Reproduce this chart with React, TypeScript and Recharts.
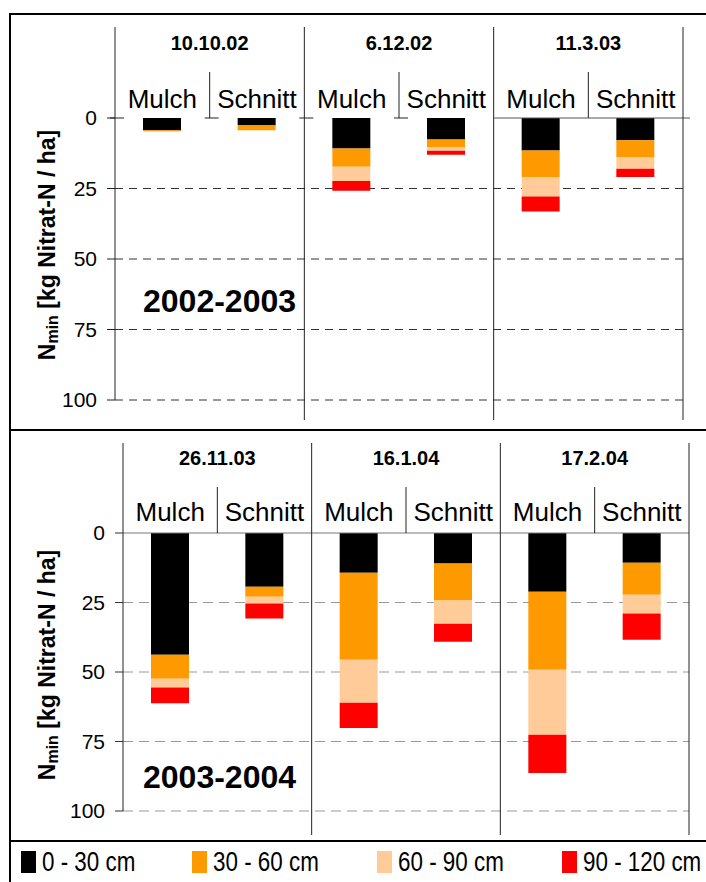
import React from 'react';
import { BarChart, Bar, XAxis, YAxis, CartesianGrid, Legend, Customized } from 'recharts';

const FONT = "'Liberation Sans', Arial, Helvetica, sans-serif";

const treatments = ['Mulch', 'Schnitt', 'Mulch', 'Schnitt', 'Mulch', 'Schnitt'];
const dates2002 = ['10.10.02', '6.12.02', '11.3.03'];
const dates2003 = ['26.11.03', '16.1.04', '17.2.04'];

const s2002_0_30 = [4.3, 2.5, 10.8, 7.6, 11.5, 7.9];
const s2002_30_60 = [0.3, 1.8, 6.5, 2.9, 9.4, 6.1];
const s2002_60_90 = [0.3, 0, 5.0, 1.1, 6.9, 4.0];
const s2002_90_120 = [0, 0, 3.5, 1.4, 5.4, 2.9];

const s2003_0_30 = [43.8, 19.3, 14.3, 11.0, 21.1, 10.7];
const s2003_30_60 = [8.6, 3.6, 31.3, 13.3, 28.1, 11.5];
const s2003_60_90 = [3.2, 2.5, 15.5, 8.3, 23.4, 6.8];
const s2003_90_120 = [5.6, 5.4, 9.0, 6.5, 13.7, 9.4];

const yTicks = [0, 25, 50, 75, 100];
const yDomain = [0, 100];
const gridValues = [25, 50, 75, 100];
const layerNames = ['0 - 30 cm', '30 - 60 cm', '60 - 90 cm', '90 - 120 cm'];
const layerColors = ['#000000', '#FF9900', '#FFCC99', '#FF0000'];
const layerKeys = ['l1', 'l2', 'l3', 'l4'];

function buildData(a: number[], b: number[], c: number[], d: number[]) {
  return treatments.map((t, i) => ({ key: 'c' + i, treatment: t, l1: a[i], l2: b[i], l3: c[i], l4: d[i] }));
}

const data2002 = buildData(s2002_0_30, s2002_30_60, s2002_60_90, s2002_90_120);
const data2003 = buildData(s2003_0_30, s2003_30_60, s2003_60_90, s2003_90_120);

type HeaderOpts = {
  dates: string[];
  bw: number;
  plotH: number;
  headerH: number;
  ext: number;
  treatOffset: number;
  topStyle: boolean;
};

function makeHeaderTick(o: HeaderOpts) {
  return (props: any) => {
    const { x, y } = props;
    const idx = props.index ?? (props.payload && props.payload.index) ?? 0;
    const half = o.bw / 2;
    const lc = '#222';
    const els: any[] = [];
    const xl = x - half;
    const xr = x + half;
    const top = y - o.headerH;
    if (idx % 2 === 0) {
      els.push(<line key="gl" x1={xl} x2={xl} y1={top} y2={idx === 0 ? y : y + o.plotH + o.ext} stroke={lc} strokeWidth={1} />);
      els.push(<line key="sd" x1={xr} x2={xr} y1={y - 46} y2={y} stroke={lc} strokeWidth={1} />);
      els.push(
        <text key="dt" x={xr} y={y - 68} textAnchor="middle" fontFamily={FONT} fontWeight="bold" fontSize={20} fill="#000">
          {o.dates[idx / 2]}
        </text>
      );
      if (o.topStyle && idx < 4) {
        els.push(<line key="f1" x1={xl - 5} x2={xl + 9} y1={y} y2={y} stroke={lc} strokeWidth={1} />);
        els.push(<line key="f2" x1={xr - 5} x2={xr + 9} y1={y} y2={y} stroke={lc} strokeWidth={1} />);
      }
      if (o.topStyle && idx === 4) {
        els.push(<line key="ax" x1={xl} x2={xl + 2 * o.bw + 7} y1={y} y2={y} stroke="#555" strokeWidth={1} />);
      }
    }
    if (idx === 5) {
      els.push(<line key="gr" x1={xr} x2={xr} y1={top} y2={y + o.plotH + o.ext} stroke={lc} strokeWidth={1} />);
    }
    els.push(
      <text key="tr" x={x} y={y - o.treatOffset} textAnchor="middle" fontFamily={FONT} fontSize={26} fill="#000">
        {treatments[idx]}
      </text>
    );
    return <g>{els}</g>;
  };
}

const makeYLabel = (shift: number) => (props: any) => {
  const vb = props.viewBox || { x: 0, y: 0, width: 0, height: 0 };
  const cx = 47;
  const cy = vb.y + vb.height / 2 + shift;
  return (
    <text
      transform={`rotate(-90, ${cx}, ${cy})`}
      x={cx}
      y={cy}
      textAnchor="middle"
      dominantBaseline="central"
      fontFamily={FONT}
      fontWeight="bold"
      fontSize={23}
      fill="#000"
    >
      N
      <tspan fontSize={16} dy={5}>min</tspan>
      <tspan fontSize={23} dy={-5}> [kg Nitrat-N / ha]</tspan>
    </text>
  );
};

const TopYLabel = makeYLabel(-14);
const BotYLabel = makeYLabel(-7);

const gridGen = (props: any) => {
  const ya = props && props.yAxis;
  if (ya && typeof ya.scale === 'function') return gridValues.map((v) => ya.scale(v));
  const off = props && props.offset;
  if (off && typeof off.top === 'number') {
    return gridValues.map((v) => off.top + ((v - yDomain[0]) / (yDomain[1] - yDomain[0])) * off.height);
  }
  return [];
};

const legendX = [21, 192, 377, 562];

const renderLegend = () => (
  <div style={{ position: 'relative', width: 706, height: 41 }}>
    {layerNames.map((n, i) => (
      <div key={n} style={{ position: 'absolute', left: legendX[i], top: 10, height: 22, display: 'flex', alignItems: 'center' }}>
        <span style={{ display: 'inline-block', width: 15, height: 22, background: layerColors[i] }} />
        <span
          style={{
            display: 'inline-block',
            marginLeft: 6,
            fontFamily: FONT,
            fontSize: 28,
            color: '#000',
            lineHeight: '22px',
            whiteSpace: 'nowrap',
            transform: 'scaleX(0.8)',
            transformOrigin: 'left center',
          }}
        >
          {n}
        </span>
      </div>
    ))}
  </div>
);

const TOP_W = 706;
const TOP_H = 430;
const TOP_M = { top: 27, right: 23, left: 0, bottom: 30 };
const TOP_YW = 115;
const TOP_XH = 91;
const TOP_BW = (TOP_W - TOP_M.left - TOP_M.right - TOP_YW) / 6;
const TOP_PH = TOP_H - TOP_M.top - TOP_M.bottom - TOP_XH;

const BOT_W = 706;
const BOT_H = 452;
const BOT_M = { top: 13, right: 17, left: 0, bottom: 71 };
const BOT_YW = 123;
const BOT_XH = 90;
const BOT_BW = (BOT_W - BOT_M.left - BOT_M.right - BOT_YW) / 6;
const BOT_PH = BOT_H - BOT_M.top - BOT_M.bottom - BOT_XH;

const topTick = makeHeaderTick({ dates: dates2002, bw: TOP_BW, plotH: TOP_PH, headerH: TOP_XH, ext: 20, treatOffset: 10, topStyle: true });
const botTick = makeHeaderTick({ dates: dates2003, bw: BOT_BW, plotH: BOT_PH, headerH: BOT_XH, ext: 24, treatOffset: 12, topStyle: false });

const YearText = (p: { x: number; y: number; text: string }) => (
  <text x={p.x} y={p.y} fontFamily={FONT} fontWeight="bold" fontSize={32} fill="#000">
    {p.text}
  </text>
);

export default function App() {
  return (
    <div style={{ position: 'absolute', left: 0, top: 0, width: 706, height: 882, background: '#fff', overflow: 'hidden' }}>
      <div style={{ position: 'absolute', left: 0, top: 0 }}>
        <BarChart width={TOP_W} height={TOP_H} data={data2002} margin={TOP_M} barSize={38}>
          <CartesianGrid vertical={false} horizontal stroke="#333" strokeDasharray="8 6" horizontalCoordinatesGenerator={gridGen} />
          <XAxis
            dataKey="key"
            orientation="top"
            height={TOP_XH}
            axisLine={false}
            tickLine={false}
            tickSize={0}
            tickMargin={0}
            interval={0}
            tick={topTick}
          />
          <YAxis
            reversed
            domain={yDomain}
            ticks={yTicks}
            width={TOP_YW}
            tickSize={8}
            tickMargin={10}
            axisLine={{ stroke: '#222' }}
            tickLine={{ stroke: '#222' }}
            tick={{ fontSize: 21, fill: '#000', fontFamily: FONT }}
            label={<TopYLabel />}
          />
          {layerKeys.map((k, i) => (
            <Bar key={k} dataKey={k} stackId="s" fill={layerColors[i]} name={layerNames[i]} isAnimationActive={false} />
          ))}
          <Customized component={() => <YearText x={143} y={312} text="2002-2003" />} />
        </BarChart>
      </div>
      <div style={{ position: 'absolute', left: 0, top: 430 }}>
        <BarChart width={BOT_W} height={BOT_H} data={data2003} margin={BOT_M} barSize={38}>
          <CartesianGrid vertical={false} horizontal stroke="#999" strokeDasharray="10 6" horizontalCoordinatesGenerator={gridGen} />
          <XAxis
            dataKey="key"
            orientation="top"
            height={BOT_XH}
            axisLine={{ stroke: '#777' }}
            tickLine={false}
            tickSize={0}
            tickMargin={0}
            interval={0}
            tick={botTick}
          />
          <YAxis
            reversed
            domain={yDomain}
            ticks={yTicks}
            width={BOT_YW}
            tickSize={8}
            tickMargin={10}
            axisLine={{ stroke: '#222' }}
            tickLine={{ stroke: '#333' }}
            tick={{ fontSize: 21, fill: '#000', fontFamily: FONT }}
            label={<BotYLabel />}
          />
          {layerKeys.map((k, i) => (
            <Bar key={k} dataKey={k} stackId="s" fill={layerColors[i]} name={layerNames[i]} isAnimationActive={false} />
          ))}
          <Customized component={() => <YearText x={143} y={358} text="2003-2004" />} />
          <Legend
            layout="horizontal"
            verticalAlign="middle"
            align="center"
            wrapperStyle={{ position: 'absolute', top: 411, left: 0, width: 706, height: 41 }}
            content={renderLegend}
          />
        </BarChart>
      </div>
      <div style={{ position: 'absolute', left: 10, top: 13, width: 700, height: 2, background: '#000' }} />
      <div style={{ position: 'absolute', left: 9, top: 13, width: 2, height: 880, background: '#000' }} />
      <div style={{ position: 'absolute', left: 9, top: 429, width: 700, height: 2, background: '#000' }} />
      <div style={{ position: 'absolute', left: 9, top: 840, width: 700, height: 2, background: '#000' }} />
    </div>
  );
}
